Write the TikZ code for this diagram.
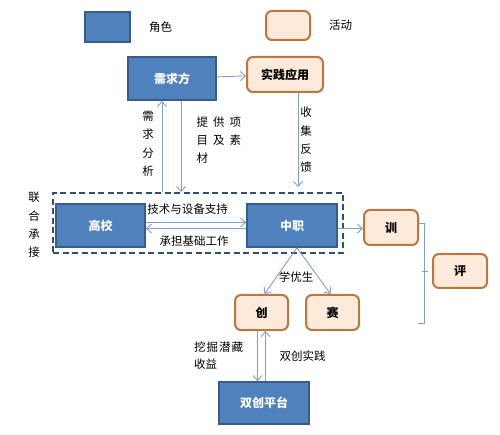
\documentclass[tikz,border=0pt]{standalone}
\usepackage{fontspec}
\setmainfont{Noto Sans CJK SC}
\usepackage{xcolor}
\definecolor{RoleBlue}{HTML}{4F81BD}
\definecolor{RoleEdge}{HTML}{385D8A}
\definecolor{ActFill}{HTML}{FDEADA}
\definecolor{ActEdge}{HTML}{B9783F}
\definecolor{Wire}{HTML}{7F9FC8}
\definecolor{DashNavy}{HTML}{2F4F75}
\colorlet{roleblue}{RoleBlue}
\colorlet{roleedge}{RoleEdge}
\colorlet{actfill}{ActFill}
\colorlet{actedge}{ActEdge}
\colorlet{wire}{Wire}
\colorlet{dashnavy}{DashNavy}
\usepackage{tikz}
\usetikzlibrary{arrows.meta,positioning}

\begin{document}
\begin{tikzpicture}[x=1pt,y=-1pt,every node/.style={font=\fontsize{11.5}{13}\selectfont,align=center,inner sep=0pt},
role/.style={draw=roleedge,line width=1.6pt,fill=roleblue,text=white,font=\fontsize{12}{13}\bfseries\selectfont},
act/.style={draw=actedge,line width=2pt,fill=actfill,rounded corners=6pt,font=\fontsize{12}{13}\bfseries\selectfont},
wire/.style={draw=wire,line width=0.9pt,-{Straight Barb[length=5pt,width=9pt]}},
vtext/.style={font=\fontsize{11.5}{18.3}\selectfont}]
\useasboundingbox (0,0) rectangle (500,435);
% legend
\node[role,minimum width=45pt,minimum height=30pt] (rolekey) at (107.5,27) {};
\node[right=18pt of rolekey] (rolename) {角色};
\node[act,minimum width=44pt,minimum height=29pt] (actkey) at (288,25.5) {};
\node[right=18pt of actkey] (actname) {活动};
% roles and activities
\node[role,minimum width=88pt,minimum height=43pt] (need) at (172,78.5) {需求方};
\node[act,minimum width=76pt,minimum height=35pt] (prac) at (285,74.5) {实践应用};
\node[draw=dashnavy,line width=2pt,dash pattern=on 6pt off 3.5pt,minimum width=290pt,minimum height=60pt] (union) at (198,223) {};
\node[role,minimum width=89pt,minimum height=43pt] (gx) at (100.5,225.5) {高校};
\node[role,minimum width=90pt,minimum height=43pt] (zz) at (292,225.5) {中职};
\node[act,minimum width=54pt,minimum height=35pt] (xun) at (391,227.5) {训};
\node[act,minimum width=54pt,minimum height=34pt] (ping) at (460,271) {评};
\node[act,minimum width=53pt,minimum height=35pt] (chuang) at (261.5,312.5) {创};
\node[act,minimum width=53pt,minimum height=35pt,right=16pt of chuang] (sai) {赛};
\node[role,minimum width=90pt,minimum height=42pt] (plat) at (264,403) {双创平台};
% labels
\node[vtext] (fx) at (148,144) {需\\求\\分\\析};
\node[vtext,align=left,anchor=west] (sc) at (196.5,140) {提\hspace{5pt}供\hspace{5pt}项\\目\hspace{5pt}及\hspace{5pt}素\\材};
\node[vtext] (fk) at (306,140) {收\\集\\反\\馈};
\node[vtext] (lh) at (34,225) {联\\合\\承\\接};
\node (js) at (187.5,209) {技术与设备支持};
\node (cd) at (194,241) {承担基础工作};
\node[fill=white] (yx) at (296,277) {学优生};
\node[align=left,anchor=west,font=\fontsize{11.5}{17}\selectfont] (wj) at (194,356) {挖\hspace{1pt}掘\hspace{1pt}潜\hspace{1pt}藏\\收益};
\node (sj) at (302.5,356) {双创实践};
% connectors
\draw[wire] (need) -- (prac);
\draw[wire] ([xshift=-10pt]need.south |- union.north) -- ([xshift=-10pt]need.south);
\draw[wire] ([xshift=9pt]need.south) -- ([xshift=9pt]need.south |- union.north);
\draw[wire,shorten >=5pt] ([xshift=13pt]prac.south) -- ([xshift=13pt]prac.south |- union.north);
\draw[wire] ([yshift=3pt]gx.east) -- ([yshift=3pt]zz.west);
\draw[wire] ([yshift=-3pt]zz.west) -- ([yshift=-3pt]gx.east);
\draw[wire] ([yshift=-3pt]zz.east) -- ([yshift=-1pt]xun.west);
\draw[wire] ([xshift=5pt]zz.south) -- ([xshift=3pt]chuang.north);
\draw[wire] ([xshift=5pt]zz.south) -- ([xshift=-2pt]sai.north);
\draw[wire] ([xshift=-4pt]chuang.south) -- ([xshift=-4pt]chuang.south |- plat.north);
\draw[wire] ([xshift=4pt]chuang.south |- plat.north) -- ([xshift=4pt]chuang.south);
% bracket
\draw[wire,-] ([yshift=4.5pt]xun.east) -- ++(5,0) -- ++(0,100) -- ++(-6,0);
\draw[wire,-] ([xshift=-4pt]ping.west) -- ++(-6,0);
\end{tikzpicture}
\end{document}
